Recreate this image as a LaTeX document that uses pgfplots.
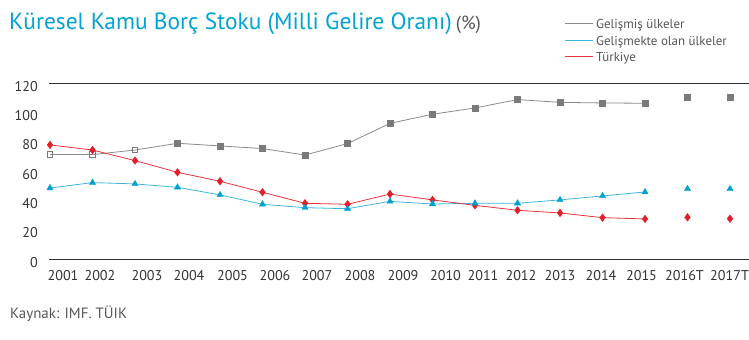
\documentclass[border=0pt]{standalone}
\usepackage{fontspec}
\setmainfont{PT Sans}
\usepackage{pgfplots}
\pgfplotsset{compat=1.18}
\definecolor{titlecyan}{HTML}{00A3D3}
\definecolor{txtgray}{HTML}{555555}
\definecolor{gline}{HTML}{8A8A8A}
\definecolor{gmark}{HTML}{7A7A7A}
\definecolor{bline}{HTML}{3DB4E0}
\definecolor{bmark}{HTML}{00A0D0}
\definecolor{rline}{HTML}{E8323C}
\definecolor{rmark}{HTML}{E31E2A}
\definecolor{axgray}{HTML}{333333}
\begin{document}
\begin{tikzpicture}[x=1bp,y=1bp]
\useasboundingbox (0,0) rectangle (749,339);
\node[anchor=base west, inner sep=0, text=titlecyan, font=\fontsize{23.5}{23.5}\selectfont] at (9,309.7) {Küresel Kamu Borç Stoku (Milli Gelire Oranı)\,{\color{txtgray}\fontsize{19}{19}\selectfont(\%)}};
\node[anchor=base west, inner sep=0, text=txtgray, font=\fontsize{15}{15}\selectfont] at (10,20.7) {Kaynak: IMF. TÜIK};
% legend
\draw[gline, line width=1bp] (565,315.7) -- (593,315.7);
\node[anchor=base west, inner sep=0, text=txtgray, font=\fontsize{13}{13}\selectfont] at (596,310.7) {Gelişmiş ülkeler};
\draw[bline, line width=1bp] (565,298.3) -- (593,298.3);
\node[anchor=base west, inner sep=0, text=txtgray, font=\fontsize{13}{13}\selectfont] at (596,293.3) {Gelişmekte olan ülkeler};
\draw[rline, line width=1bp] (565,282.3) -- (593,282.3);
\node[anchor=base west, inner sep=0, text=txtgray, font=\fontsize{13}{13}\selectfont] at (596,277.3) {Türkiye};
\begin{axis}[
  at={(49bp,79.7bp)}, anchor=south west, scale only axis,
  width=700bp, height=176bp,
  xmin=-0.0235, xmax=16.447, ymin=0, ymax=120,
  axis x line*=bottom, axis y line*=left,
  y axis line style={draw=none},
  x axis line style={draw=axgray, line width=0.9bp},
  major tick length=0pt,
  ytick={0,20,...,120},
  xtick={0.306,1.176,2.282,3.271,4.294,5.294,6.282,7.294,8.306,9.306,10.188,11.082,12.0,12.965,13.918,14.929,15.99},
  xticklabels={2001,2002,2003,2004,2005,2006,2007,2008,2009,2010,2011,2012,2013,2014,2015,2016T,2017T},
  tick label style={font=\fontsize{14.2}{14.2}\selectfont, text=axgray},
  /pgf/number format/assume math mode=true,
  yticklabel style={anchor=base east, inner sep=0pt, xshift=-11bp, yshift=-8bp},
  xticklabel style={anchor=base, inner sep=0pt, yshift=-20.7bp},
  clip=false,
]
\draw[axgray, line width=0.9bp] (rel axis cs:0,1) -- (rel axis cs:1,1);
% Gelişmiş ülkeler
\addplot[color=gline, line width=0.8bp, mark=none] coordinates {
(0,71.4) (1,71.4) (2,74.5) (3,79.1) (4,77.3) (5,75.5) (6,71.1) (7,78.9)
(8,92.7) (9,98.9) (10,103.2) (11,108.9) (12,107.0) (13,106.6) (14,106.4)};
% Gelişmekte olan ülkeler
\addplot[color=bline, line width=0.8bp, mark=none] coordinates {
(0,48.6) (1,52.3) (2,51.4) (3,49.1) (4,43.9) (5,37.5) (6,35.2) (7,34.5)
(8,39.5) (9,37.7) (10,38.2) (11,38.2) (12,40.5) (13,43.2) (14,45.9)};
% Türkiye
\addplot[color=rline, line width=0.8bp, mark=none] coordinates {
(0,78.0) (1,74.5) (2,67.3) (3,59.3) (4,53.2) (5,45.7) (6,38.2) (7,37.5)
(8,44.5) (9,40.5) (10,36.8) (11,33.4) (12,31.6) (13,28.4) (14,27.5)};
% markers
\addplot[only marks, mark=square, mark size=2.8bp, mark options={draw=gmark, fill=white, line width=0.8bp}] coordinates {
(0,71.4) (1,71.4) (2,74.5)};
\addplot[only marks, mark=square*, mark size=3bp, mark options={draw=gmark, fill=gmark}] coordinates {
(3,79.1) (4,77.3) (5,75.5) (6,71.1) (7,78.9) (8,92.7) (9,98.9) (10,103.2)
(11,108.9) (12,107.0) (13,106.6) (14,106.4) (15,110.2) (16,110.7)};
\addplot[only marks, mark=diamond*, mark size=3.8bp, mark options={draw=rmark, fill=rmark}] coordinates {
(0,78.0) (1,74.5) (2,67.3) (3,59.3) (4,53.2) (5,45.7) (6,38.2) (7,37.5)
(8,44.5) (9,40.5) (10,36.8) (11,33.4) (12,31.6) (13,28.4) (14,27.5) (15,28.6) (16,27.7)};
\addplot[only marks, mark=triangle*, mark size=3.6bp, mark options={draw=bmark, fill=bmark}] coordinates {
(0,48.6) (1,52.3) (2,51.4) (3,49.1) (4,43.9) (5,37.5) (6,35.2) (7,34.5)
(8,39.5) (9,37.7) (10,38.2) (11,38.2) (12,40.5) (13,43.2) (14,45.9) (15,48.0) (16,48.0)};
\end{axis}
\end{tikzpicture}
\end{document}
